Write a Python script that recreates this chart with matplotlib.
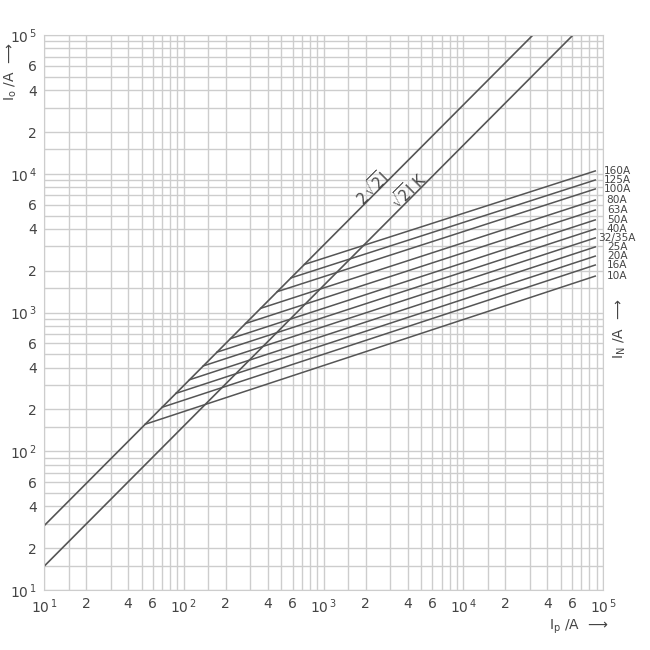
import numpy as np
import matplotlib
matplotlib.use("Agg")
from matplotlib import pyplot as plt

# prospective current Ip vs. cut-off current Io (log-log)
upper_ip = [10, 31500]          # 2*sqrt(2)*I line
upper_io = [29, 1e5]
lower_ip = [10, 61000]          # sqrt(2)*I*K line
lower_io = [14.8, 1e5]

ratings = ["160A", "125A", "100A", "80A", "63A", "50A", "40A",
           "32/35A", "25A", "20A", "16A", "10A"]
fuse_ip_start = [730, 585, 467, 355, 277, 216, 173, 138, 110, 88, 70, 53]
fuse_io_end = [10480, 9020, 7770, 6470, 5480, 4650, 4000, 3450, 2970, 2550, 2200, 1830]
fuse_ip_end = 88000

tick_vals = [10, 20, 40, 60, 100, 200, 400, 600, 1e3, 2e3, 4e3, 6e3,
             1e4, 2e4, 4e4, 6e4, 1e5]
tick_labels = ["$\\mathregular{10^{\\,1}}$", "2", "4", "6",
               "$\\mathregular{10^{\\,2}}$", "2", "4", "6",
               "$\\mathregular{10^{\\,3}}$", "2", "4", "6",
               "$\\mathregular{10^{\\,4}}$", "2", "4", "6",
               "$\\mathregular{10^{\\,5}}$"]
grid_steps = [1, 1.5, 2, 3, 4, 5, 6, 7, 8, 9]

plt.rcParams["font.family"] = ["Liberation Sans Narrow", "DejaVu Sans"]
plt.rcParams["mathtext.fontset"] = "dejavusans"

line_col = "#555555"
grid_col = "#cdcdcd"
text_col = "#444444"

fig = plt.figure(figsize=(6.5, 6.5), dpi=100)
ax = fig.add_axes([0.0677, 0.0923, 0.86, 0.8538])
ax.set_xscale("log")
ax.set_yscale("log")
ax.set_xlim(10, 1e5)
ax.set_ylim(10, 1e5)

grid = [m * 10 ** d for d in range(1, 5) for m in grid_steps] + [1e5]
for g in grid:
    ax.axvline(g, color=grid_col, lw=1.0, zorder=0)
    ax.axhline(g, color=grid_col, lw=1.0, zorder=0)

ax.plot(upper_ip, upper_io, color=line_col, lw=1.2)
ax.plot(lower_ip, lower_io, color=line_col, lw=1.2)


def on_upper(ip):
    lx = np.log10(upper_ip)
    ly = np.log10(upper_io)
    return 10 ** np.interp(np.log10(ip), lx, ly)


for name, ip0, io1 in zip(ratings, fuse_ip_start, fuse_io_end):
    ax.plot([ip0, fuse_ip_end], [on_upper(ip0), io1], color=line_col, lw=1.1)
    ax.text(1.26e5, io1, name, ha="center", va="center", fontsize=7.6,
            color=text_col)

ax.text(2220, 7890, r"$\mathregular{2}\,\sqrt{2}\mathregular{I}$", rotation=45,
        ha="center", va="center", fontsize=10.5, color=text_col,
        rotation_mode="anchor")
ax.text(4030, 7640, r"$\sqrt{2}\mathregular{I\ K}$", rotation=45,
        ha="center", va="center", fontsize=10.5, color=text_col,
        rotation_mode="anchor")

ax.set_xticks(tick_vals)
ax.set_xticklabels(tick_labels)
ax.set_yticks(tick_vals)
ax.set_yticklabels(tick_labels)
ax.xaxis.set_minor_locator(matplotlib.ticker.NullLocator())
ax.yaxis.set_minor_locator(matplotlib.ticker.NullLocator())
ax.tick_params(length=0, labelsize=10, colors=text_col, pad=5)
for s in ax.spines.values():
    s.set_color(grid_col)

fig.text(0.016, 0.89, r"I$_\mathregular{o}$ /A  ⟶", rotation=90, ha="center",
         va="center", fontsize=10, color=text_col)
fig.text(0.89, 0.036, r"I$_\mathregular{p}$ /A  ⟶", ha="center", va="center",
         fontsize=10, color=text_col)
fig.text(0.953, 0.495, r"I$_\mathregular{N}$ /A  ⟶", rotation=90, ha="center",
         va="center", fontsize=10, color=text_col)

fig.savefig("out.png", dpi=100, facecolor="white")
